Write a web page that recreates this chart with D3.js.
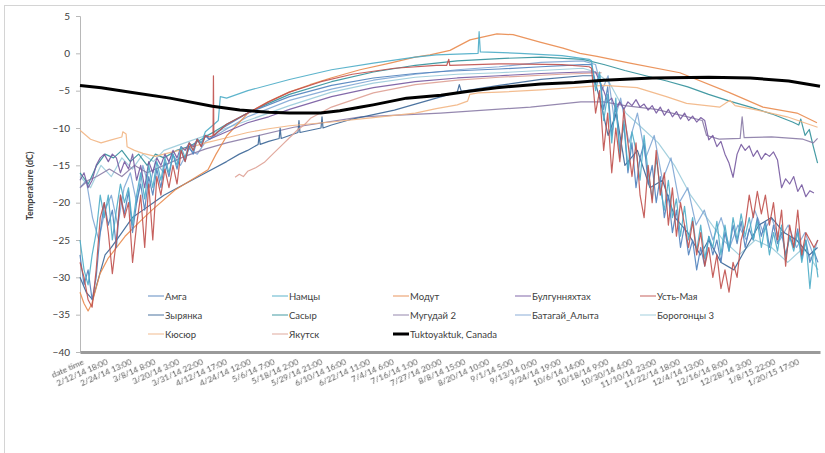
<!DOCTYPE html>
<html><head><meta charset="utf-8">
<script src="https://cdn.jsdelivr.net/npm/d3@7/dist/d3.min.js"></script>
<style>
body{margin:0;background:#fff}
svg{display:block}
text{font-family:Lato,"Open Sans","Liberation Sans",sans-serif}
.xl{opacity:0.99;will-change:transform}
</style>
</head><body>
<svg id="c" width="825" height="453"></svg>
<script>
// ---------- tick labels (category axis, every 283 hourly rows) ----------
const xLabels = ["date time","2/12/14 18:00","2/24/14 13:00","3/8/14 8:00","3/20/14 3:00","3/31/14 22:00","4/12/14 17:00","4/24/14 12:00","5/6/14 7:00","5/18/14 2:00","5/29/14 21:00","6/10/14 16:00","6/22/14 11:00","7/4/14 6:00","7/16/14 1:00","7/27/14 20:00","8/8/14 15:00","8/20/14 10:00","9/1/14 5:00","9/13/14 0:00","9/24/14 19:00","10/6/14 14:00","10/18/14 9:00","10/30/14 4:00","11/10/14 23:00","11/22/14 18:00","12/4/14 13:00","12/16/14 8:00","12/28/14 3:00","1/8/15 22:00","1/20/15 17:00"];
const yTicks = [5,0,-5,-10,-15,-20,-25,-30,-35,-40];
const totalDays = 366;          // x in days since first row
const labelEveryHours = 283;

// ---------- series: noisy winter stretches (value every 2 days) + sparse points [day, °C] ----------
const ustMayaW1 = [-28,-30,-33,-34,-29,-22,-20,-24,-29.5,-25,-19,-22,-20,-28,-23,-19,-26,-17.5,-25,-16.5,-19,-15.5,-18,-15,-17.5,-13,-14.5,-12,-13,-11.5,-12.5,-11];
const ustMayaS = [[64,-11.2],[65.8,-11],[66,-3],[66.2,-11],[72.5,-9.5],[83,-8],[93.3,-6.5],[103.6,-5.2],[119.2,-3.8],[134.7,-2.8],[155.5,-2],[176.2,-1.6],[181.4,-1.6],[182.4,-0.8],[182.9,-1.6],[207.3,-1.4],[238.4,-1.5],[251.8,-1.8]];
const ustMayaW2 = [-2,-8,-5,-13,-8,-16,-10,-14.5,-7.5,-12,-16.5,-12,-19,-22,-15,-20,-13,-19,-16,-23,-18,-24.5,-20,-23,-26,-22.5,-27,-24,-28.5,-26,-30,-27,-31.5,-29,-32,-28,-30,-25,-23,-19,-22,-18.5,-21.5,-19,-23,-20,-25,-21,-28.5,-23,-26,-21,-27,-24,-25,-26,-25];

const namtsyW1 = [-25,-29,-31,-27,-24,-19,-22,-19,-25,-21,-17.5,-20,-18,-23,-19,-16,-19.5,-15,-18,-14.5,-17,-14,-16,-13.5,-15,-12.5,-14,-12,-13,-11.5,-12,-10.5];
const namtsyS = [[66.3,-9.5],[68.4,-9],[69.4,-5.8],[72.5,-6],[83,-5],[103.6,-3.5],[124.4,-2.2],[145.1,-1.3],[165.8,-0.5],[176.2,-0.2],[196.9,0],[197.4,2.9],[198,0.2],[217.6,0],[238.4,-0.3],[251.8,-0.8]];
const namtsyW2 = [-1,-5,-2.5,-9,-5.5,-12,-6,-14,-9,-15.5,-10.5,-13,-17,-11,-16,-19.5,-14,-18,-21,-17,-22,-19.5,-24.5,-20.5,-25,-22,-26.5,-23,-27.5,-24.5,-26,-22.5,-27,-23,-26.5,-22,-25,-21.5,-24.5,-22,-25,-22.5,-26,-23,-27,-24,-26.5,-23,-27.5,-24.5,-26.5,-24,-28,-25,-31.5,-26,-30];

const amgaW1 = [-27,-31,-29,-33,-30,-24,-20,-23,-21,-26,-19,-21.5,-18.5,-24,-20,-17.5,-21,-16.5,-19,-15.5,-18,-14.5,-16.5,-13.5,-15.5,-13,-14.5,-12.5,-13.5,-11.5,-12.5,-11,-11.5];
const amgaS = [[70.5,-10],[83,-8],[103.6,-5.8],[124.4,-4.3],[145.1,-3.3],[165.8,-2.7],[181.4,-2.4],[207.3,-2.1],[228,-1.8],[248.7,-1.5]];
const amgaW2 = [-1.5,-4,-3,-7.5,-4.5,-11,-7,-13,-9.5,-16,-12,-18,-14,-12,-17.5,-15,-20,-16.5,-22,-19,-24,-21,-26,-23,-27,-25,-29,-26,-28.5,-24.5,-27,-25,-28,-24,-26.5,-23,-25.5,-22.5,-26,-23.5,-25,-22,-24.5,-22.5,-26,-23,-25.5,-24,-27,-24.5,-26,-23.5,-27.5,-25,-28,-26.5,-28];

const bulgW1 = [-17,-16,-18,-17,-15,-14,-13.5,-14.5,-13.5,-14,-16,-14.5,-15.5,-13.5,-17,-15,-18,-14.5,-16,-14,-15,-13.5,-14.5,-13,-14,-12.5,-13,-12,-12.5,-11.5,-12,-11,-11.5];
const bulgS = [[72.5,-10.5],[82.9,-9.3],[93.3,-8.5],[103.6,-7.5],[124.4,-5.8],[145.1,-4.6],[165.8,-3.8],[186.6,-3.3],[207.3,-3],[228,-2.7],[248.7,-2.5],[255,-2.5]];
const bulgW2 = [-5,-6.5,-6,-7.5,-6.5,-7.5,-6.5,-7,-6.2,-7.2,-6.8,-7.6,-7,-8,-7.2,-8.3,-7.5,-8.5,-7.8,-8.8,-8,-9,-8.4,-9.2,-8.6,-9,-11.6,-11,-12.5,-11.8,-13.5,-14.7,-16.6,-13.5,-12.2,-13,-12.4,-13.8,-13,-14.2,-13.4,-13.8,-13.2,-14.3,-18,-16.8,-17.5,-16.5,-18.5,-17.6,-19.2,-18.4,-18.7];

const modut = [[0,-32],[2,-33.5],[4,-34.5],[5.9,-33.5],[8.4,-31],[9.9,-29.5],[13.8,-27.5],[22.3,-24.5],[29.7,-22.5],[35.6,-21],[47,-18.3],[63.3,-15.6],[67.3,-13.5],[72.7,-11],[83.1,-8],[93,-6.5],[103.4,-5.2],[113.8,-4.2],[124.1,-3.3],[138.5,-2.2],[153.3,-1.3],[165.7,-0.5],[173.1,-0.2],[183,0.4],[192.9,1.8],[206.2,2.6],[214.2,2.5],[227.5,1.5],[238.9,0.7],[247.3,0],[255.7,-0.4],[272,-1.3],[296.7,-2.6],[321.5,-5.3],[337.8,-7.2],[354.6,-8],[364.5,-9.3]];
const zyryanka = [[0,-30],[3.1,-32],[6.2,-33],[9.3,-30],[12.4,-27],[15.5,-26],[20.7,-24],[25.9,-22],[31.1,-21],[36.3,-20],[41.5,-19],[51.8,-17.5],[62.2,-16],[72.5,-14.5],[78.8,-13.5],[82.9,-13],[88.1,-12.2],[88.6,-11],[89.1,-12.2],[93.3,-11.8],[98.5,-11.4],[99,-10],[99.5,-11.4],[103.6,-11],[107.8,-10.6],[108.3,-9],[108.8,-10.6],[114,-10.3],[119.2,-10],[119.7,-8.5],[120.2,-10],[124.4,-9.6],[134.7,-8.8],[145.1,-8.2],[155.5,-7.6],[165.8,-6.8],[176.2,-6],[186.6,-5.2],[187.6,-4.2],[188.6,-5.1],[207.3,-4.3],[228,-3.5],[248.7,-3],[253.9,-3],[257,-6],[261.2,-11],[265.3,-8],[269.5,-15],[275.7,-13],[281.9,-18],[288.1,-17],[294.3,-22],[300.6,-24],[306.8,-27],[310.9,-25],[317.1,-28],[323.4,-29],[329.6,-26],[335.8,-23],[342,-22],[348.2,-24],[354.4,-25],[360.7,-27],[364.8,-26]];
const sasyr = [[0,-16],[4.1,-17.5],[8.3,-15],[12.4,-13.5],[16.6,-14],[20.7,-13],[24.9,-14.5],[29,-13.5],[33.2,-15],[37.3,-13.5],[41.5,-14],[47.7,-13],[53.9,-12.5],[60.1,-11.5],[66.3,-10.5],[72.5,-9.5],[82.9,-8],[93.3,-6.7],[103.6,-5.5],[124.4,-3.8],[145.1,-2.5],[165.8,-1.6],[186.6,-1],[207.3,-0.7],[228,-0.5],[248.7,-0.8],[259.1,-1.5],[269.5,-2.3],[279.8,-3],[290.2,-3.7],[300.6,-4.5],[310.9,-5.5],[321.3,-6.4],[331.6,-7.2],[342,-8.1],[352.4,-9.2],[355.5,-9.6],[356.5,-8.8],[358.6,-11],[360.7,-10.2],[362.7,-12.5],[364.8,-14.7]];
const mugudai = [[0,-18],[4.1,-17],[8.3,-16.5],[14.5,-15.5],[20.7,-16.5],[26.9,-15],[33.2,-16],[41.5,-15],[51.8,-13.8],[62.2,-12.8],[72.5,-12],[78.8,-11.6],[105.7,-9.9],[138.9,-8.5],[178.3,-8],[222.8,-7.2],[247.7,-6.5],[259.1,-6.5],[269.5,-7],[285,-7.5],[300.6,-8.5],[307.8,-9],[309.9,-11],[316.1,-11.5],[326.5,-11.4],[327.5,-8.5],[328.5,-11.3],[342,-11.2],[357.6,-11.5],[362.7,-12],[364.8,-11.4]];
const batagai = [[0,-18],[3.1,-17],[6.2,-22],[9.3,-25],[12.4,-21],[15.5,-19],[18.7,-23],[21.8,-18],[24.9,-16],[28,-20],[31.1,-15],[34.2,-18],[37.3,-14.5],[41.5,-16],[45.6,-13.5],[49.7,-15],[53.9,-12.8],[58,-13.5],[62.2,-11.8],[68.4,-10.8],[74.6,-9.8],[82.9,-8.5],[103.6,-6.3],[124.4,-4.8],[145.1,-3.6],[165.8,-2.8],[186.6,-2.2],[207.3,-1.8],[228,-1.2],[248.7,-1],[255,-1.5],[258.1,-5],[261.2,-3],[264.3,-9],[267.4,-6],[271.5,-12],[275.7,-8],[279.8,-14],[284,-11],[288.1,-17],[292.3,-14],[296.4,-20],[300.6,-18],[304.7,-23],[308.8,-21],[313,-25],[317.1,-22],[321.3,-26],[325.4,-23],[329.6,-25],[333.7,-21],[337.9,-24],[342,-22],[346.2,-25],[350.3,-23],[354.4,-26],[358.6,-24],[362.7,-27],[364.8,-25]];
const borogontsy = [[0,-16.5],[5.2,-18],[10.4,-15],[15.5,-16.5],[20.7,-14],[25.9,-15.5],[31.1,-13.5],[36.3,-14.5],[41.5,-13],[51.8,-12],[62.2,-11],[72.5,-10],[82.9,-9],[103.6,-7],[124.4,-5.2],[145.1,-4],[165.8,-3.2],[186.6,-2.8],[207.3,-2.6],[228,-2.3],[248.7,-2],[255,-2.5],[262,-4],[270,-8],[278,-10],[286,-12],[294,-15],[302,-19],[310,-22],[318,-25],[326,-27],[334,-25],[342,-26],[350,-28],[358,-26],[365,-29]];
const kyusyur = [[0,-10.3],[5.2,-11.5],[10.4,-12],[15.5,-11.6],[20.7,-11.2],[21.2,-10.5],[22.8,-10.8],[23.3,-12.5],[26.9,-13],[31.1,-13.4],[37.3,-13.8],[41.5,-13.5],[51.8,-12.8],[62.2,-12],[72.5,-11.3],[82.9,-10.6],[93.3,-10.1],[103.6,-9.7],[124.4,-9.2],[145.1,-8.6],[165.8,-8],[176.2,-7.4],[186.6,-6.9],[191.7,-6.4],[192.8,-5.5],[196.9,-5.3],[207.3,-5.2],[228,-4.9],[248.7,-4.5],[259.1,-4.3],[275.5,-4.6],[290,-5.8],[300,-6.7],[316.5,-7.2],[321.5,-6.3],[324,-7],[335,-7.6],[349.7,-8.5],[364.8,-9.9]];
const yakutsk = [[76.7,-16.6],[78.8,-16.2],[80.8,-16.5],[82.9,-15.8],[87.1,-15.3],[91.2,-14.6],[95.3,-13.5],[99.5,-12.4],[103.6,-11.3],[107.8,-10.2],[110.9,-9.6],[114,-8.7],[124.4,-7.2],[145.1,-5.3],[165.8,-4.2],[186.6,-3.6],[207.3,-3.2],[238.4,-2.8],[258,-2.6]];
const tuktoyaktuk = [[0,-4.3],[10.5,-4.6],[25,-5.2],[44.5,-6],[65.5,-7.1],[79,-7.6],[93.5,-7.9],[103.5,-8],[119,-8],[128.5,-7.7],[139,-7.2],[145,-6.9],[161.5,-6],[178.5,-5.6],[191.5,-5.1],[206,-4.6],[228,-4.1],[244.5,-3.9],[259,-3.6],[283,-3.3],[311,-3.2],[331.5,-3.3],[350.5,-3.7],[366,-4.4]];

// build series (x = day index of the row)
function joinParts(w1, s, w2start, w2){
  const a = w1 ? w1.map((v,i)=>[i*2, v]) : [];
  const b = s || [];
  const c = w2 ? w2.map((v,i)=>[w2start + i*2, v]) : [];
  return a.concat(b, c);
}
const series = [
  {name:"Амга", color:"#4F81BD", data: joinParts(amgaW1, amgaS, 253, amgaW2)},
  {name:"Намцы", color:"#4BACC6", data: joinParts(namtsyW1, namtsyS, 253, namtsyW2)},
  {name:"Модут", color:"#E98A4C", data: modut},
  {name:"Булгунняхтах", color:"#7559A0", data: joinParts(bulgW1, bulgS, 259, bulgW2)},
  {name:"Усть-Мая", color:"#C0504D", data: joinParts(ustMayaW1, ustMayaS, 253, ustMayaW2)},
  {name:"Зырянка", color:"#3A6596", data: zyryanka},
  {name:"Сасыр", color:"#31909A", data: sasyr},
  {name:"Мугудай 2", color:"#8A7BA6", data: mugudai},
  {name:"Батагай_Алыта", color:"#7FA6D4", data: batagai},
  {name:"Борогонцы 3", color:"#9ACBDA", data: borogontsy},
  {name:"Кюсюр", color:"#F2B583", data: kyusyur},
  {name:"Якутск", color:"#DEA094", data: yakutsk},
  {name:"Tuktoyaktuk, Canada", color:"#000000", data: tuktoyaktuk, width:3}
];
const drawOrder = ["Борогонцы 3","Батагай_Алыта","Сасыр","Мугудай 2","Зырянка","Кюсюр","Якутск","Модут","Булгунняхтах","Амга","Намцы","Усть-Мая","Tuktoyaktuk, Canada"];

const svg = d3.select("#c");
const L = 80, R = 820, T = 16, B = 352;
const x = d3.scaleLinear().domain([0,totalDays]).range([L,R]);
const y = d3.scaleLinear().domain([-40,5]).range([B,T]);

// outer frame
svg.append("line").attr("x1",4.5).attr("x2",4.5).attr("y1",5).attr("y2",453).attr("stroke","#d4d4d4");
svg.append("line").attr("x1",4.5).attr("x2",825).attr("y1",5.5).attr("y2",5.5).attr("stroke","#d4d4d4");

// y axis
const yAxis = d3.axisLeft(y).tickValues(yTicks).tickSize(4).tickPadding(6);
const gy = svg.append("g").attr("transform",`translate(${L},0)`).call(yAxis);
gy.select(".domain").attr("stroke","#b8b8b8");
gy.selectAll(".tick line").attr("stroke","#b8b8b8");
gy.selectAll("text").attr("font-size",10).style("fill","#404040").style("font-family","Lato,'Open Sans',sans-serif");

// x axis (category ticks)
const tickDays = xLabels.map((d,i)=> i*labelEveryHours/24);
const xAxis = d3.axisBottom(x).tickValues(tickDays).tickSize(0).tickFormat("");
const gx = svg.append("g").attr("transform",`translate(0,${B})`).call(xAxis);
gx.select(".domain").attr("stroke","#9a9a9a").attr("stroke-width",3);
gx.selectAll(".tick").each(function(d,i){
  d3.select(this).append("text")
    .attr("class","xl")
    .attr("text-anchor","end")
    .attr("transform","translate(4,12) rotate(-24)")
    .attr("font-size",8.3)
    .style("fill","#595959")
    .text(xLabels[i]);
});

// axis title
svg.append("text").attr("transform","translate(33,186) rotate(-90)")
  .attr("text-anchor","middle").attr("font-size",9).attr("font-weight","bold")
  .style("fill","#404040").text("Temperature (dC)");

// lines
const line = d3.line().x(d=>x(d[0])).y(d=>y(d[1]));
const byName = Object.fromEntries(series.map(s=>[s.name,s]));
const gl = svg.append("g");
drawOrder.forEach(n=>{
  const s = byName[n];
  gl.append("path").datum(s.data).attr("d",line)
    .attr("fill","none").attr("stroke",s.color)
    .attr("stroke-width",s.width||1.2).attr("stroke-linejoin","round").attr("opacity", s.width?1:0.9);
});

// legend
const colX = [148,272,393,515,640], rowY = [296,315,334];
const lg = svg.append("g");
series.forEach((s,i)=>{
  const cx = colX[i%5], cy = rowY[Math.floor(i/5)];
  lg.append("line").attr("x1",cx).attr("x2",cx+16).attr("y1",cy).attr("y2",cy)
    .attr("stroke",s.color).attr("stroke-width",s.width?3:1.5).attr("opacity",s.width?1:0.6);
  lg.append("text").attr("x",cx+17).attr("y",cy+3.5).attr("font-size",9.5).style("fill","#404040").text(s.name);
});
</script>
</body></html>
